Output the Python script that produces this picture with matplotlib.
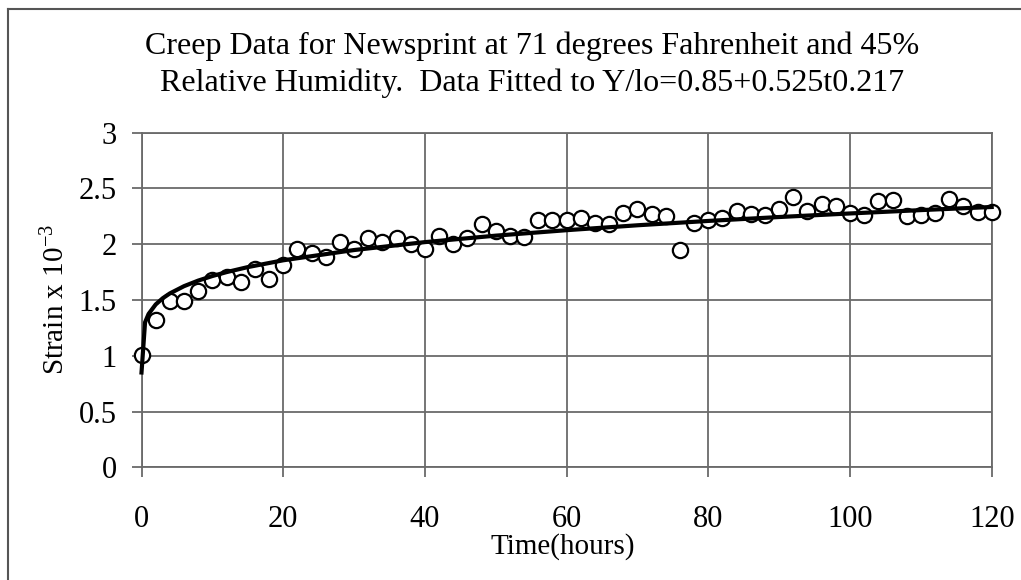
import matplotlib.pyplot as plt
from matplotlib.lines import Line2D

# measured points (hours, strain x 10^-3)
t_data = [0, 2, 4, 6, 8, 10, 12, 14, 16, 18, 20, 22, 24, 26, 28, 30, 32, 34, 36, 38,
          40, 42, 44, 46, 48, 50, 52, 54, 56, 58, 60, 62, 64, 66, 68, 70, 72, 74, 76, 78,
          80, 82, 84, 86, 88, 90, 92, 94, 96, 98, 100, 102, 104, 106, 108, 110, 112, 114,
          116, 118, 120]
strain = [1.01, 1.32, 1.49, 1.49, 1.58, 1.68, 1.71, 1.665, 1.78, 1.69, 1.81, 1.955, 1.925,
          1.89, 2.02, 1.955, 2.055, 2.02, 2.06, 2.0,
          1.955, 2.07, 2.0, 2.06, 2.18, 2.12, 2.075, 2.065, 2.22, 2.22, 2.22, 2.235, 2.19,
          2.18, 2.28, 2.32, 2.27, 2.25, 1.95, 2.19,
          2.22, 2.235, 2.30, 2.27, 2.26, 2.32, 2.42, 2.30, 2.36, 2.34, 2.28, 2.26, 2.39,
          2.40, 2.25, 2.26, 2.28, 2.41, 2.34, 2.29, 2.29]

# fitted curve as drawn
t_fit = [0, 0.5, 1, 2, 3, 4, 6, 8, 10, 12, 15, 20, 30, 40, 50, 60, 70, 80, 90, 100, 110, 120]
y_fit = [0.85, 1.30, 1.375, 1.46, 1.516, 1.559, 1.624, 1.674, 1.715, 1.75, 1.795, 1.856,
         1.948, 2.019, 2.077, 2.126, 2.17, 2.209, 2.244, 2.276, 2.306, 2.334]

x_ticks = [0, 20, 40, 60, 80, 100, 120]
y_ticks = [0, 0.5, 1, 1.5, 2, 2.5, 3]
y_tick_labels = ['0', '0.5', '1', '1.5', '2', '2.5', '3']

plt.rcParams['font.family'] = ['Liberation Serif', 'DejaVu Serif']
plt.rcParams['mathtext.fontset'] = 'custom'
plt.rcParams['mathtext.rm'] = 'Liberation Serif'

fig = plt.figure(figsize=(10.21, 5.8), dpi=100)
ax = fig.add_axes([0.1386, 0.1943, 0.8327, 0.5769])

ax.plot(t_data, strain, 'o', mfc='white', mec='black', ms=11, mew=1.6, zorder=3,
        clip_on=False)
ax.plot(t_fit, y_fit, '-', color='black', lw=3, zorder=4, clip_on=False)

ax.set_xlim(0, 120)
ax.set_ylim(0, 3)
ax.set_xticks(x_ticks)
ax.set_yticks(y_ticks)
ax.set_yticklabels(y_tick_labels)
ax.grid(True, color='#6a6a6a', lw=1.3)
ax.set_axisbelow(True)
for s in ax.spines.values():
    s.set_color('#6a6a6a')
    s.set_linewidth(1.3)
ax.tick_params(axis='both', colors='#6a6a6a', length=7, width=1.3, labelsize=22,
               labelcolor='black')
ax.tick_params(axis='x', pad=20)
ax.tick_params(axis='y', pad=11)

ax.set_xlabel('Time(hours)', fontsize=21, va='center')
ax.xaxis.set_label_coords(0.496, -0.238)
ax.set_ylabel('Strain x $\\mathregular{10^{-3}}$', fontsize=21, labelpad=6)

fig.text(0.521, 0.92, 'Creep Data for Newsprint at 71 degrees Fahrenheit and 45%',
         ha='center', va='center', fontsize=23)
fig.text(0.521, 0.857, 'Relative Humidity.  Data Fitted to Y/lo=0.85+0.525t0.217',
         ha='center', va='center', fontsize=23)

# chart border
fig.add_artist(Line2D([8 / 1021, 8 / 1021], [0, 1 - 9 / 580], color='#555555', lw=1.5))
fig.add_artist(Line2D([8 / 1021, 1], [1 - 9 / 580, 1 - 9 / 580], color='#555555', lw=1.5))

fig.savefig('out.png')
